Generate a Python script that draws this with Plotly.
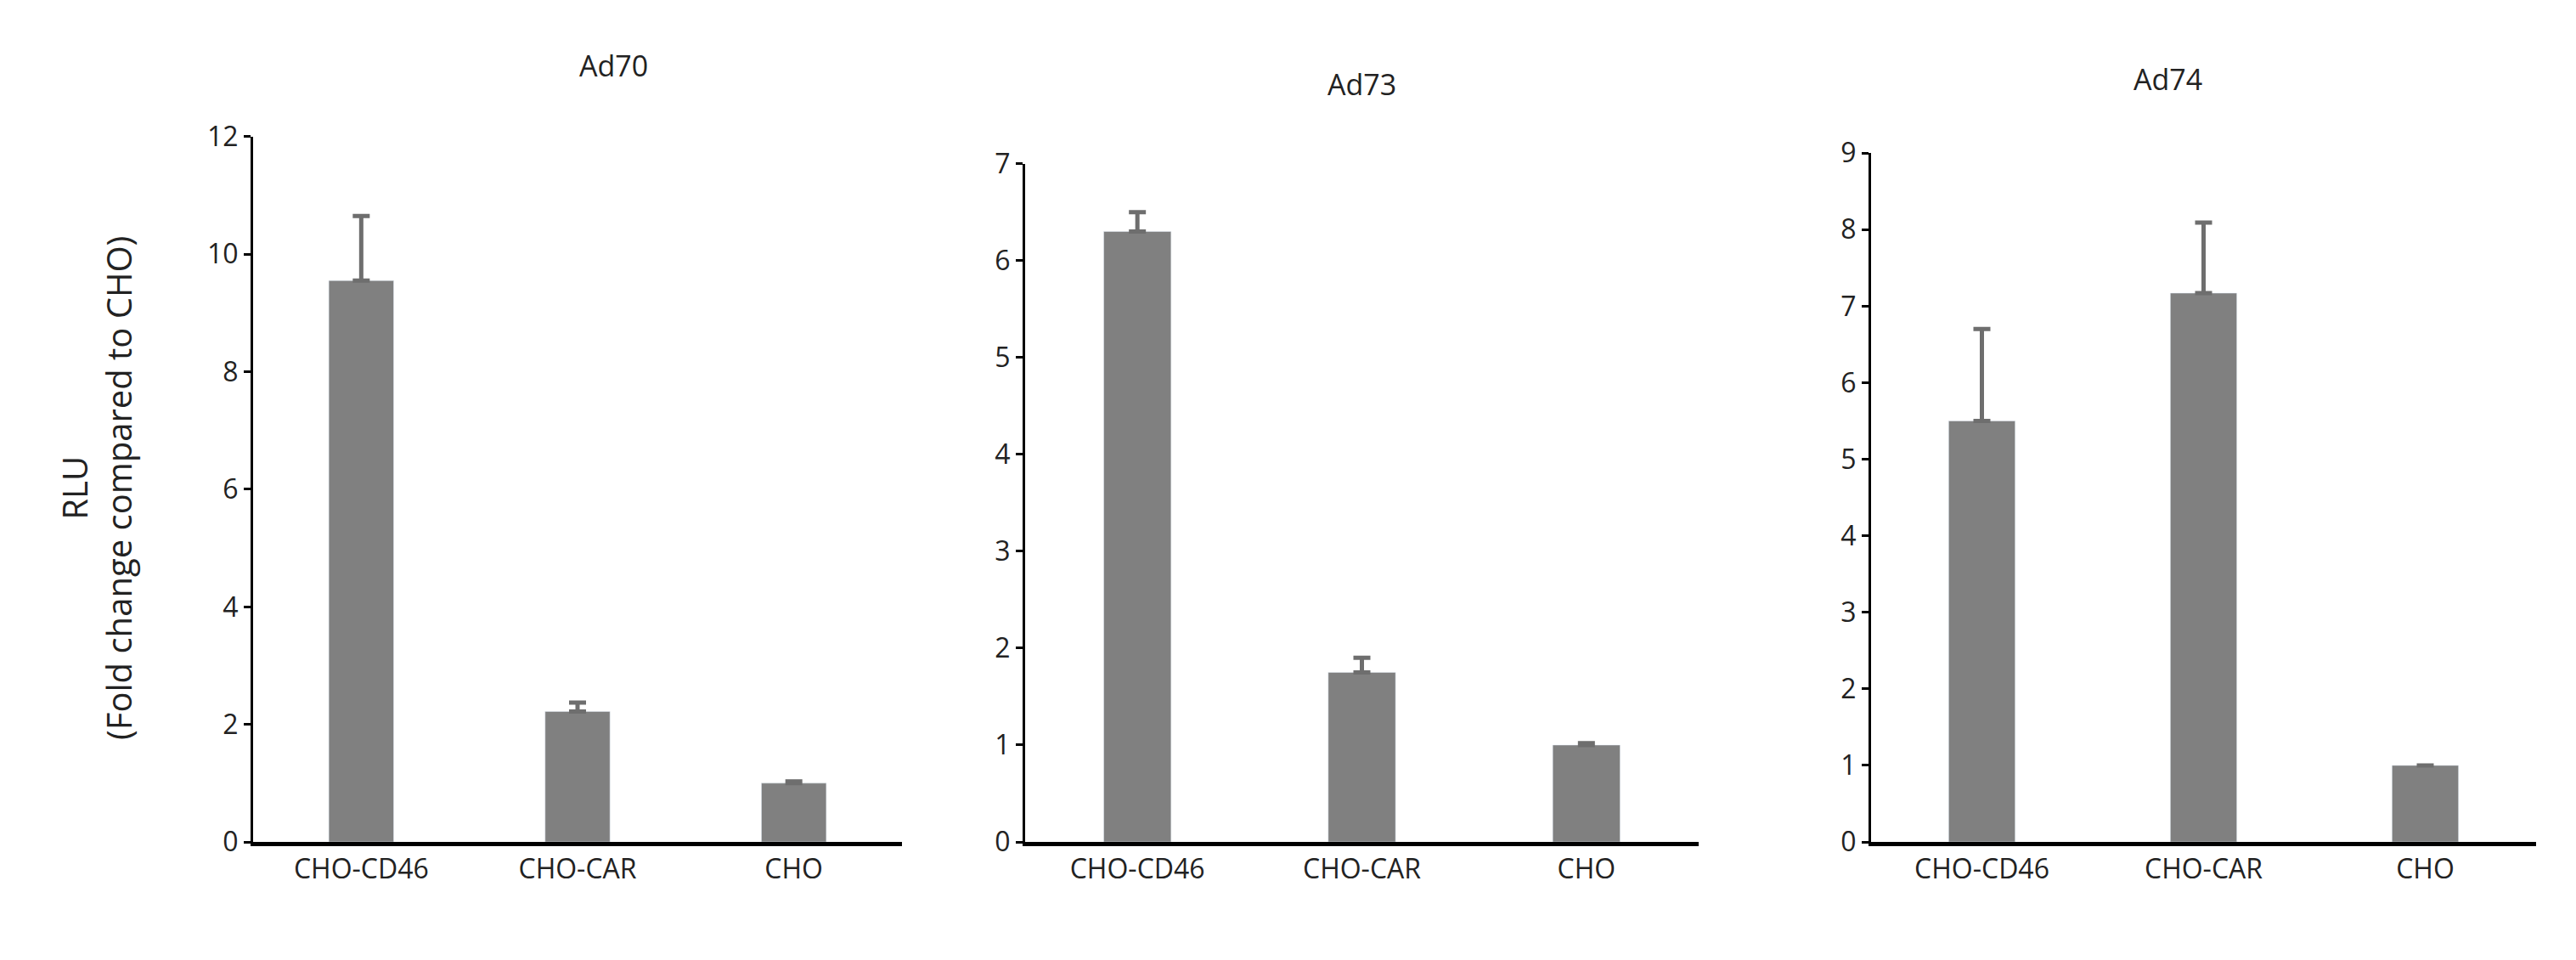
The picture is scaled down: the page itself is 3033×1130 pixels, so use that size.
import plotly.graph_objects as go

categories = ["CHO-CD46", "CHO-CAR", "CHO"]
panels = ["Ad70", "Ad73", "Ad74"]
ad70 = [9.55, 2.22, 1.0]
ad70_err = [1.1, 0.15, 0.03]
ad73 = [6.3, 1.75, 1.0]
ad73_err = [0.2, 0.15, 0.02]
ad74 = [5.5, 7.17, 1.0]
ad74_err = [1.2, 0.92, 0.0]
y_max = [12, 7, 9]
y_dtick = [2, 1, 1]

W, H = 3033, 1130
FONT = "Open Sans"
x_dom = [[290, 1054], [1199, 1992], [2195, 2978]]
y_top = [135, 168, 155]
y_bot = 998
title_y = [22, 45, 38]

fig = go.Figure()
for i, (vals, errs) in enumerate([(ad70, ad70_err), (ad73, ad73_err), (ad74, ad74_err)]):
    n = "" if i == 0 else str(i + 1)
    fig.add_bar(x=categories, y=vals, width=0.3, marker_color="#808080",
                error_y=dict(type="data", array=errs, arrayminus=[0] * 3,
                             color="#6e6e6e", thickness=5, width=10),
                xaxis="x" + n, yaxis="y" + n, showlegend=False)
    fig.update_layout(**{
        "xaxis" + n: dict(domain=[x_dom[i][0] / W, x_dom[i][1] / W], anchor="y" + n,
                          showline=True, linecolor="black", linewidth=5, ticks="",
                          tickfont=dict(size=32, family=FONT, color="#222")),
        "yaxis" + n: dict(domain=[1 - y_bot / H, 1 - y_top[i] / H], anchor="x" + n,
                          range=[0, y_max[i]], dtick=y_dtick[i], showgrid=False,
                          zeroline=False, showline=True, linecolor="black", linewidth=3,
                          ticks="outside", ticklen=8, tickwidth=3, tickcolor="black",
                          tickfont=dict(size=32, family=FONT, color="#222")),
    })
    fig.add_annotation(text=panels[i], x=(x_dom[i][0] + x_dom[i][1]) / 2 / W,
                       y=1 - title_y[i] / H, xref="paper", yref="paper",
                       showarrow=False, font=dict(size=34, family=FONT, color="#222"))

fig.add_annotation(text="RLU<br>(Fold change compared to CHO)", x=50 / W, y=0.5,
                   xref="paper", yref="paper", textangle=-90, showarrow=False,
                   font=dict(size=40, family=FONT, color="#222"))
fig.update_layout(width=W, height=H, margin=dict(l=0, r=0, t=0, b=0),
                  plot_bgcolor="white", paper_bgcolor="white")
fig.write_html("out.html")
